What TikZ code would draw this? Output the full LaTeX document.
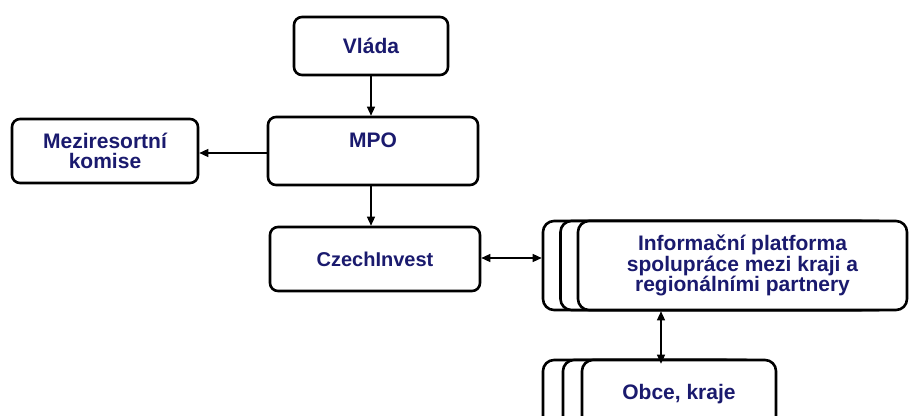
\documentclass[tikz,border=0pt]{standalone}
\usepackage{fontspec}
\setmainfont{Liberation Sans}
\usetikzlibrary{arrows.meta}
\definecolor{txtblue}{HTML}{1A1A6E}
\tikzset{
  box/.style={draw=black, line width=2.6pt, rounded corners=8pt, fill=white,
    font=\fontsize{21}{19.5}\selectfont\bfseries, text=txtblue, align=center, inner sep=0pt},
  stackbox/.style={box, rounded corners=11pt},
  conn/.style={line width=1.3pt, -{Triangle[length=9pt,width=8pt]}},
  dconn/.style={line width=1.3pt, {Triangle[length=9pt,width=8pt]}-{Triangle[length=9pt,width=8pt]}}
}
\begin{document}
\begin{tikzpicture}[x=1pt,y=-1pt]
\clip (0,0) rectangle (909,415);
\fill[white] (0,0) rectangle (909,415);
% top column
\node[box, minimum width=154pt, minimum height=58pt] (vlada) at (371,46) {Vláda};
\node[box, minimum width=210pt, text height=30.5pt, text depth=37.5pt] (mpo) at (373,151) {MPO};
\node[box, minimum width=186pt, minimum height=64pt] (komise) at (105,151) {Meziresortní\\komise};
\node[box, minimum width=210pt, minimum height=64pt, font=\fontsize{20}{19.5}\selectfont\bfseries] (czech) at (375,259) {CzechInvest};
% platform stack
\node[stackbox, minimum width=329pt, minimum height=89pt] (plat3) at (707.5,265.5) {};
\node[stackbox, minimum width=329pt, minimum height=89pt] (plat2) at (725,265.5) {};
\node[stackbox, minimum width=329pt, minimum height=89pt] (plat) at (742.5,265.5) {Informační platforma\\spolupráce mezi kraji a\\regionálními partnery};
% obce stack
\node[stackbox, minimum width=194pt, minimum height=68pt] (obce3) at (640,394) {};
\node[stackbox, minimum width=194pt, minimum height=68pt] (obce2) at (660,394) {};
\node[stackbox, minimum width=194pt, minimum height=68pt] (obce) at (679,394) {Obce, kraje};
% connectors
\draw[conn] (vlada.south) -- (vlada.south |- mpo.north);
\draw[conn] (mpo.west |- 0,153) -- (komise.east |- 0,153);
\draw[conn] (mpo.south -| vlada.south) -- (vlada.south |- czech.north);
\draw[dconn] (czech.east |- 0,258) -- (plat3.west |- 0,258);
\draw[dconn] (plat.south -| 661,0) -- ([yshift=-5pt]obce.north -| 661,0);
\end{tikzpicture}
\end{document}
